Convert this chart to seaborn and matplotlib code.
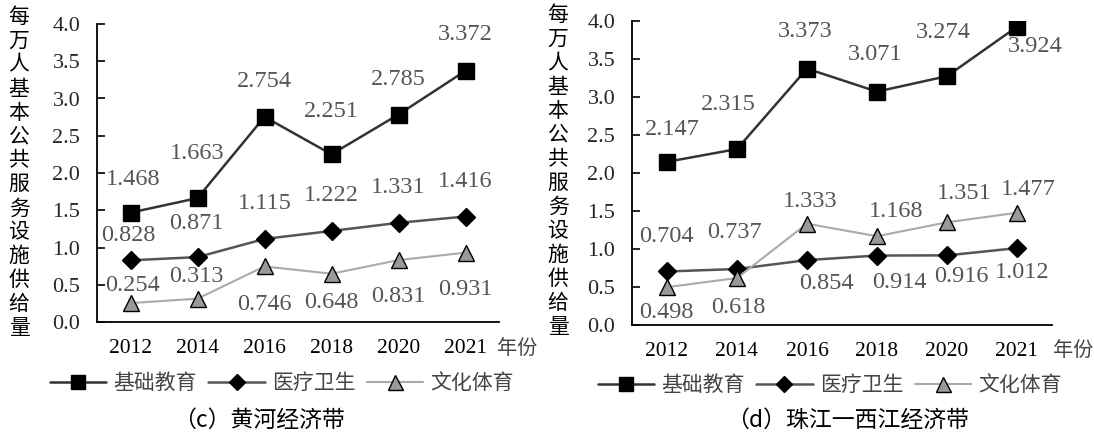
import matplotlib
matplotlib.use("Agg")
import matplotlib.pyplot as plt
import seaborn as sns
import pandas as pd
import numpy as np

years = ['2012', '2014', '2016', '2018', '2020', '2021']
series_names = ['基础教育', '医疗卫生', '文化体育']

# (c) 黄河经济带
yellow_edu = [1.468, 1.663, 2.754, 2.251, 2.785, 3.372]
yellow_med = [0.828, 0.871, 1.115, 1.222, 1.331, 1.416]
yellow_cul = [0.254, 0.313, 0.746, 0.648, 0.831, 0.931]

# (d) 珠江一西江经济带
pearl_edu = [2.147, 2.315, 3.373, 3.071, 3.274, 3.924]
pearl_med = [0.704, 0.737, 0.854, 0.914, 0.916, 1.012]
pearl_cul = [0.498, 0.618, 1.333, 1.168, 1.351, 1.477]

# 数据标签偏移 (像素, 正值向上)
yellow_offsets = [
    [(3, 33), (0, 45), (0, 35), (0, 43), (0, 35), (0, 36)],
    [(-2, 25), (-1, 34), (0, 35), (0, 35), (0, 35), (0, 35)],
    [(2, 18), (-1, 22), (0, -38), (0, -29), (0, -36), (0, -37)],
]
pearl_offsets = [
    [(5, 32), (-9, 45), (-2, 37), (-2, 37), (-4, 44), (18, -20)],
    [(-1, 35), (-3, 36), (19, -23), (22, -27), (14, -21), (5, -24)],
    [(-1, -25), (1, -29), (3, 22), (19, 25), (17, 29), (11, 23)],
]

styles = {
    '基础教育': dict(color='#333333', marker='s', ms=11, mfc='black', mec='black', lw=1.8),
    '医疗卫生': dict(color='#555555', marker='D', ms=9, mfc='black', mec='black', lw=1.8),
    '文化体育': dict(color='#aaaaaa', marker='^', ms=12, mfc='#999999', mec='black', lw=1.5),
}

sns.set_theme(style='white')
plt.rcParams['font.family'] = ['Liberation Serif', 'Noto Sans CJK SC', 'DejaVu Sans']
plt.rcParams['axes.unicode_minus'] = False

SERIF = ['Liberation Serif', 'DejaVu Serif']
CJK = ['Noto Sans CJK SC', 'DejaVu Sans']
LABEL_GRAY = '#555555'
W, H = 1094, 436

fig = plt.figure(figsize=(W / 100, H / 100), dpi=100)
fig.patch.set_facecolor('white')


def draw_panel(rect, values, offsets, caption, caption_x, ylab_x, ylab_top, ylab_bot,
               legend_anchor, year_pos):
    ax = fig.add_axes(rect)
    x = np.arange(len(years))
    for name, vals, offs in zip(series_names, values, offsets):
        df = pd.DataFrame({'x': x, 'y': vals})
        st = styles[name]
        sns.lineplot(data=df, x='x', y='y', ax=ax, color=st['color'], lw=st['lw'],
                     marker=st['marker'], markersize=st['ms'], markerfacecolor=st['mfc'],
                     markeredgecolor=st['mec'], markeredgewidth=1.0, label=name, zorder=3)
        for xi, v, (dx, dy) in zip(x, vals, offs):
            ax.annotate(f'{v:.3f}', (xi, v), xytext=(dx, dy), textcoords='offset pixels',
                        ha='center', va='center', fontsize=17.5, family=SERIF, color=LABEL_GRAY)

    yt = np.arange(0, 4.01, 0.5)
    ax.set_xlim(-0.5, len(years) - 0.5)
    ax.set_ylim(0, 4.0)
    ax.set_yticks(yt)
    ax.set_yticklabels([f'{t:.1f}' for t in yt], family=SERIF, fontsize=16)
    ax.set_xticks(x)
    ax.set_xticklabels(years, family=SERIF, fontsize=15.5)
    ax.set_xticks(np.arange(0.5, len(years), 1.0), minor=True)
    ax.tick_params(axis='x', which='major', length=0, pad=12, colors='black')
    ax.tick_params(axis='x', which='minor', direction='in', length=6, width=1.2, color='black')
    ax.tick_params(axis='y', which='major', direction='in', length=6, width=1.2, pad=12,
                   color='black', left=True)
    ax.set_xlabel('')
    ax.set_ylabel('')
    for side in ['top', 'right']:
        ax.spines[side].set_visible(False)
    for side in ['left', 'bottom']:
        ax.spines[side].set_color('black')
        ax.spines[side].set_linewidth(1.3)
    ax.grid(False)

    leg = ax.legend(loc='center', bbox_to_anchor=legend_anchor, ncol=3, frameon=False,
                    prop={'family': CJK, 'size': 15}, handlelength=2.7, handletextpad=0.35,
                    columnspacing=0.55, borderaxespad=0, markerscale=0.9)
    for t in leg.get_texts():
        t.set_color('#444444')

    # 纵向 y 轴标题
    chars = list('每万人基本公共服务设施供给量')
    for ch, yy in zip(chars, np.linspace(ylab_top, ylab_bot, len(chars))):
        fig.text(ylab_x / W, 1 - yy / H, ch, fontsize=15, family=CJK,
                 ha='center', va='center', color='black')

    fig.text(year_pos[0] / W, 1 - year_pos[1] / H, '年份', fontsize=14.5, family=CJK,
             color='#444444', ha='center', va='center')
    fig.text(caption_x / W, 1 - 420 / H, caption, fontsize=16.5, family=CJK,
             ha='center', va='center', color='black')
    return ax


draw_panel([97 / W, 1 - 322 / H, 402 / W, 298 / H],
           [yellow_edu, yellow_med, yellow_cul], yellow_offsets,
           '（c）黄河经济带', 259, 19, 17, 328, (0.46, -0.205), (517, 348))
draw_panel([632 / W, 1 - 325 / H, 420 / W, 304 / H],
           [pearl_edu, pearl_med, pearl_cul], pearl_offsets,
           '（d）珠江一西江经济带', 848, 558, 15, 327, (0.471, -0.197), (1073, 350))

fig.savefig('out.png', dpi=100, facecolor='white')
